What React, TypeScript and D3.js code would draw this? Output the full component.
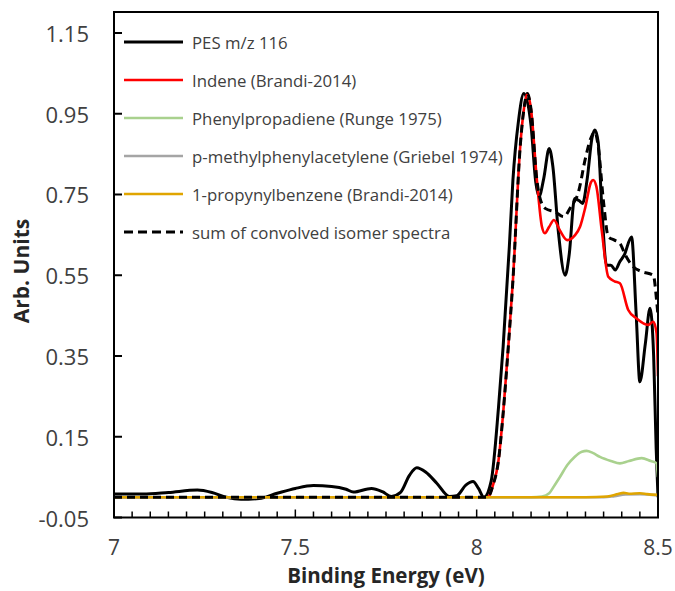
import React from "react";
import * as d3 from "d3";

type P = [number, number];

const pes: P[] = [[7.00,0.008],[7.08,0.008],[7.15,0.012],[7.23,0.018],[7.27,0.012],[7.31,0.0],[7.35,-0.005],[7.40,-0.003],[7.45,0.01],[7.50,0.022],[7.55,0.029],[7.60,0.027],[7.64,0.02],[7.66,0.013],[7.71,0.022],[7.74,0.014],[7.765,0.002],[7.79,0.012],[7.815,0.055],[7.835,0.073],[7.86,0.062],[7.89,0.035],[7.925,0.002],[7.945,0.004],[7.97,0.03],[7.99,0.039],[8.005,0.022],[8.02,0.0],[8.04,0.04],[8.06,0.22],[8.073,0.373],[8.09,0.62],[8.10,0.786],[8.115,0.93],[8.13,1.0],[8.15,0.92],[8.163,0.78],[8.172,0.745],[8.185,0.79],[8.20,0.864],[8.21,0.82],[8.225,0.66],[8.244,0.55],[8.255,0.6],[8.27,0.74],[8.282,0.735],[8.292,0.728],[8.305,0.79],[8.318,0.89],[8.326,0.91],[8.335,0.88],[8.345,0.72],[8.358,0.575],[8.37,0.575],[8.382,0.563],[8.395,0.584],[8.407,0.6],[8.427,0.645],[8.44,0.45],[8.45,0.286],[8.465,0.38],[8.478,0.468],[8.488,0.35],[8.495,0.12],[8.5,0.0]];

const indene: P[] = [[7.0,0],[8.03,0],[8.045,0.03],[8.06,0.09],[8.073,0.208],[8.087,0.37],[8.10,0.538],[8.12,0.868],[8.13,0.96],[8.14,1.0],[8.15,0.96],[8.166,0.786],[8.18,0.67],[8.188,0.654],[8.20,0.67],[8.213,0.687],[8.23,0.66],[8.25,0.637],[8.27,0.648],[8.285,0.67],[8.30,0.72],[8.315,0.78],[8.321,0.786],[8.33,0.77],[8.345,0.66],[8.363,0.546],[8.38,0.535],[8.395,0.53],[8.418,0.464],[8.441,0.443],[8.473,0.427],[8.487,0.435],[8.496,0.407],[8.5,0.3]];

const phenylpropadiene: P[] = [[7.0,0],[8.15,0],[8.18,0.002],[8.20,0.01],[8.215,0.03],[8.23,0.051],[8.25,0.08],[8.27,0.1],[8.29,0.113],[8.303,0.115],[8.32,0.11],[8.34,0.1],[8.37,0.09],[8.395,0.084],[8.42,0.09],[8.455,0.097],[8.48,0.09],[8.495,0.085],[8.5,0.05]];

const methylphenylacetylene: P[] = [[7.0,0],[8.35,0],[8.38,0.003],[8.41,0.007],[8.45,0.008],[8.5,0.005]];

const propynylbenzene: P[] = [[7.0,0.0],[8.3,0.0],[8.36,0.002],[8.39,0.008],[8.405,0.011],[8.42,0.009],[8.45,0.01],[8.47,0.008],[8.5,0.006]];

const sumSpectra: P[] = [[7.0,0],[8.03,0],[8.045,0.03],[8.06,0.09],[8.073,0.208],[8.087,0.37],[8.10,0.538],[8.12,0.868],[8.13,0.96],[8.14,1.0],[8.15,0.96],[8.166,0.786],[8.175,0.74],[8.19,0.715],[8.216,0.707],[8.24,0.695],[8.26,0.72],[8.28,0.754],[8.30,0.84],[8.315,0.89],[8.326,0.905],[8.335,0.87],[8.35,0.73],[8.363,0.645],[8.38,0.637],[8.395,0.629],[8.41,0.6],[8.432,0.571],[8.455,0.559],[8.487,0.55],[8.496,0.489],[8.5,0.45]];

const legendLabels = [
  "PES m/z 116",
  "Indene (Brandi-2014)",
  "Phenylpropadiene (Runge 1975)",
  "p-methylphenylacetylene (Griebel 1974)",
  "1-propynylbenzene (Brandi-2014)",
  "sum of convolved isomer spectra",
];
const yTicks = [-0.05, 0.15, 0.35, 0.55, 0.75, 0.95, 1.15];
const xTicks = [7, 7.5, 8, 8.5];

export default function App() {
  const L = 114, R = 658, T = 12, B = 517.5;
  const x = d3.scaleLinear().domain([7, 8.5]).range([L, R]);
  const y = d3.scaleLinear().domain([-0.05, 1.2]).range([B, 12.8]);
  const line = d3.line<P>().x(d => x(d[0])).y(d => y(d[1])).curve(d3.curveMonotoneX);

  const series = [
    { data: pes, color: "#000000", w: 3, dash: undefined },
    { data: indene, color: "#ff0000", w: 2.6, dash: undefined },
    { data: phenylpropadiene, color: "#a9d18e", w: 2.6, dash: undefined },
    { data: methylphenylacetylene, color: "#a5a5a5", w: 2.6, dash: undefined },
    { data: propynylbenzene, color: "#e0a500", w: 2.6, dash: undefined },
    { data: sumSpectra, color: "#000000", w: 3, dash: "8,5" },
  ];

  const minorTicks = d3.range(0, 31).map(i => 7 + i * 0.05);
  const font = "'Open Sans', sans-serif";

  return (
    <svg width={675} height={591} style={{ position: "absolute", left: 0, top: 0, background: "#fff" }} fontFamily={font}>
      <defs>
        <clipPath id="plot">
          <rect x={L} y={T} width={R - L} height={B - T} />
        </clipPath>
      </defs>
      <g clipPath="url(#plot)">
        {series.map((s, i) => (
          <path key={i} d={line(s.data) || ""} fill="none" stroke={s.color} strokeWidth={s.w}
            strokeDasharray={s.dash} strokeLinejoin="round" />
        ))}
      </g>
      <rect x={L} y={T} width={R - L} height={B - T} fill="none" stroke="#000" strokeWidth={2} />
      {yTicks.map(t => (
        <g key={t}>
          <line x1={L} x2={L + 8} y1={y(t)} y2={y(t)} stroke="#000" strokeWidth={2} />
          <text x={89} y={y(t)} textAnchor="end" dominantBaseline="central" fontSize={22} fill="#404040">
            {t.toFixed(2)}
          </text>
        </g>
      ))}
      {minorTicks.map((t, i) => (
        <line key={i} x1={x(t)} x2={x(t)} y1={B} y2={B - (i % 10 === 0 ? 8 : 6)} stroke="#000" strokeWidth={1.5} />
      ))}
      {xTicks.map(t => (
        <text key={t} x={x(t)} y={555} textAnchor="middle" fontSize={21} fill="#404040">
          {String(t)}
        </text>
      ))}
      <text x={386} y={583} textAnchor="middle" fontSize={20.5} fontWeight="bold" fill="#262626">
        Binding Energy (eV)
      </text>
      <text transform="translate(29,271) rotate(-90)" textAnchor="middle" fontSize={21} fontWeight="bold" fill="#262626">
        Arb. Units
      </text>
      {legendLabels.map((lab, i) => {
        const s = series[i];
        const yy = 42 + i * 38;
        return (
          <g key={lab}>
            <line x1={124} x2={183} y1={yy} y2={yy} stroke={s.color} strokeWidth={s.w}
              strokeDasharray={s.dash ? "9,5" : undefined} />
            <text x={192} y={yy} dominantBaseline="central" fontSize={16.8} fill="#404040">{lab}</text>
          </g>
        );
      })}
    </svg>
  );
}
